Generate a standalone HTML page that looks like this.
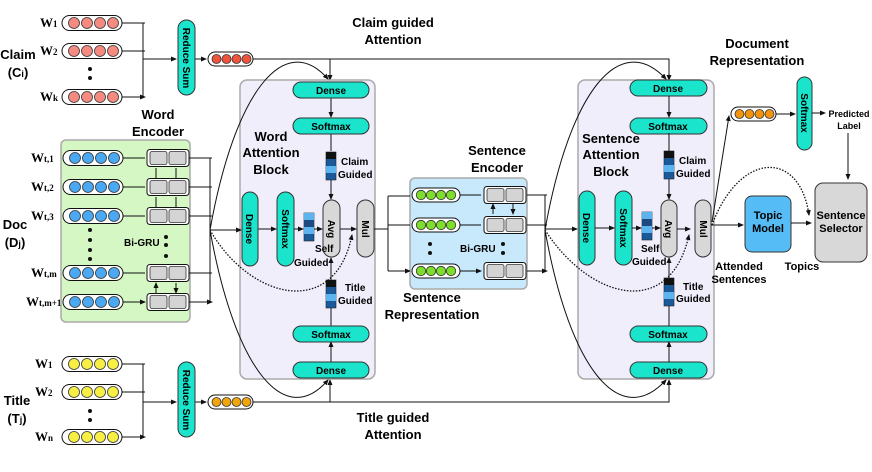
<!DOCTYPE html>
<html><head><meta charset="utf-8"><style>
body{margin:0;background:#fff}
svg{display:block;font-family:"Liberation Sans",sans-serif;font-weight:bold}
.w{font-family:"Liberation Serif",serif;font-weight:bold;font-size:13px}
.l{font-size:13px}
.s{font-size:10px}
.t{font-size:10px}
</style></head><body>
<svg width="872" height="472" viewBox="0 0 872 472" xmlns="http://www.w3.org/2000/svg">
<defs>
<marker id="a" markerWidth="6" markerHeight="6" refX="5" refY="3" orient="auto" markerUnits="userSpaceOnUse"><path d="M0,0.5 L6,3 L0,5.5z" fill="#111"/></marker>
<g id="pill"><rect x="0" y="-7.5" width="60" height="15" rx="7.5" fill="#fff" stroke="#111"/></g>
<g id="rc"><use href="#pill"/><g fill="#f48a80" stroke="#333" stroke-width=".8"><circle cx="12" cy="0" r="5.5"/><circle cx="25" cy="0" r="5.5"/><circle cx="38" cy="0" r="5.5"/><circle cx="51" cy="0" r="5.5"/></g></g>
<g id="bc"><use href="#pill"/><g fill="#4aa9f2" stroke="#333" stroke-width=".8"><circle cx="12" cy="0" r="5.5"/><circle cx="25" cy="0" r="5.5"/><circle cx="38" cy="0" r="5.5"/><circle cx="51" cy="0" r="5.5"/></g></g>
<g id="yc"><use href="#pill"/><g fill="#f8ef45" stroke="#333" stroke-width=".8"><circle cx="12" cy="0" r="5.5"/><circle cx="25" cy="0" r="5.5"/><circle cx="38" cy="0" r="5.5"/><circle cx="51" cy="0" r="5.5"/></g></g>
<g id="gc"><rect x="0" y="-7" width="48" height="14" rx="7" fill="#fff" stroke="#111"/><g fill="#7ddf2b" stroke="#333" stroke-width=".8"><circle cx="9" cy="0" r="4.7"/><circle cx="19" cy="0" r="4.7"/><circle cx="29" cy="0" r="4.7"/><circle cx="39" cy="0" r="4.7"/></g></g>
<g id="sp"><rect x="0" y="-7" width="45" height="14" rx="7" fill="#fff" stroke="#111"/><g stroke="#333" stroke-width=".8"><circle cx="8.5" cy="0" r="4.5"/><circle cx="18.5" cy="0" r="4.5"/><circle cx="28.5" cy="0" r="4.5"/><circle cx="38.5" cy="0" r="4.5"/></g></g>
<g id="gru"><rect x="0" y="-8.5" width="42" height="17" rx="3" fill="#fff" stroke="#111"/><rect x="3" y="-6.5" width="17" height="13" rx="2" fill="#d4d4d4" stroke="#333" stroke-width=".8"/><rect x="22" y="-6.5" width="17" height="13" rx="2" fill="#d4d4d4" stroke="#333" stroke-width=".8"/></g>
<g id="vec"><rect x="0" y="0" width="10" height="28" fill="#1a5a9a" stroke="#222" stroke-width=".6"/><rect x="0" y="0" width="10" height="7" fill="#111"/><rect x="0" y="14" width="10" height="7" fill="#5cb4ee"/></g>
<g id="vec2"><rect x="0" y="0" width="10" height="28" fill="#1a5a9a" stroke="#222" stroke-width=".6"/><rect x="0" y="7" width="10" height="7" fill="#1c4a80"/><rect x="0" y="14" width="10" height="7" fill="#5cb4ee"/><rect x="0" y="0" width="10" height="7" fill="#5cb4ee"/></g>
</defs>

<g stroke="#111" fill="none" stroke-width="1">
<path d="M122,23H145M122,51H145M122,97H145" marker-end="url(#a)"/>
<path d="M143,23V97"/><path d="M143,59H176" marker-end="url(#a)"/>
<path d="M195,59H206" marker-end="url(#a)"/>
<path d="M253,59H669V79M330,59V79" />
<path d="M330,70V80" marker-end="url(#a)"/><path d="M669,70V80" marker-end="url(#a)"/>
<path d="M122,364H145M122,392H145M122,437H145" marker-end="url(#a)"/>
<path d="M143,364V437"/><path d="M143,402H176" marker-end="url(#a)"/>
<path d="M195,402H206" marker-end="url(#a)"/>
<path d="M253,402H669V380M330,402V380"/>
<path d="M330,390V380" marker-end="url(#a)"/><path d="M669,390V380" marker-end="url(#a)"/>
</g>

<rect x="61" y="140" width="129" height="182" rx="5" fill="#d4f7c4" stroke="#aaa" stroke-width="1.5"/>
<rect x="240" y="80" width="135" height="299" rx="7" fill="#f1eefb" stroke="#aaa" stroke-width="1.5"/>
<rect x="410" y="178" width="117" height="111" rx="5" fill="#c8e8fb" stroke="#aaa" stroke-width="1.5"/>
<rect x="578" y="80" width="136" height="299" rx="7" fill="#f1eefb" stroke="#aaa" stroke-width="1.5"/>

<use href="#rc" x="62" y="23"/><use href="#rc" x="62" y="51"/><use href="#rc" x="62" y="97"/>
<circle cx="90" cy="69" r="2" fill="#111"/><circle cx="90" cy="78" r="2" fill="#111"/>
<use href="#yc" x="62" y="364"/><use href="#yc" x="62" y="392"/><use href="#yc" x="62" y="437"/>
<circle cx="90" cy="411" r="2" fill="#111"/><circle cx="90" cy="420" r="2" fill="#111"/>
<use href="#sp" x="208" y="59" fill="#f0543c"/>
<use href="#sp" x="208" y="402" fill="#f0a50c"/>
<use href="#sp" x="731" y="114" fill="#f3940c"/>

<rect x="178" y="20" width="17" height="75" rx="8.5" fill="#1ae5cc" stroke="#333"/>
<rect x="178" y="362" width="17" height="75" rx="8.5" fill="#1ae5cc" stroke="#333"/>
<text class="t" transform="translate(183,58) rotate(90)" text-anchor="middle">Reduce Sum</text>
<text class="t" transform="translate(183,400) rotate(90)" text-anchor="middle">Reduce Sum</text>

<g stroke="#111" fill="none">
<path d="M122,158H145M122,187H145M122,216H145M122,273H145M122,302H145" marker-end="url(#a)"/>
<path d="M189,158H212M189,187H212M189,216H212M189,273H212M189,302H212" marker-end="url(#a)"/>
<path d="M210,158V302"/>
<path d="M156,178V168M156,207V197M156,293V283" marker-end="url(#a)"/>
<path d="M176,168V178M176,197V207M176,283V293" marker-end="url(#a)"/>
</g>
<use href="#bc" x="63" y="158"/><use href="#bc" x="63" y="187"/><use href="#bc" x="63" y="216"/><use href="#bc" x="63" y="273"/><use href="#bc" x="63" y="302"/>
<use href="#gru" x="147" y="158"/><use href="#gru" x="147" y="187"/><use href="#gru" x="147" y="216"/><use href="#gru" x="147" y="273"/><use href="#gru" x="147" y="302"/>
<g fill="#111"><circle cx="90" cy="230" r="2"/><circle cx="90" cy="240" r="2"/><circle cx="90" cy="250" r="2"/><circle cx="90" cy="259" r="2"/>
<circle cx="166" cy="237" r="2"/><circle cx="166" cy="245" r="2"/><circle cx="166" cy="256" r="2"/></g>
<text class="s" x="124" y="246">Bi-GRU</text>

<g stroke="#111" fill="none">
<path d="M210,230H241" marker-end="url(#a)"/>
<path d="M258,229H276" marker-end="url(#a)"/>
<path d="M294,229H303" marker-end="url(#a)"/>
<path d="M314,229H322" marker-end="url(#a)"/>
<path d="M340,229H356" marker-end="url(#a)"/>
<path d="M331,97V117" marker-end="url(#a)"/>
<path d="M331,133V151"/><path d="M331,180V199" marker-end="url(#a)"/>
<path d="M331,362V342" marker-end="url(#a)"/>
<path d="M331,326V308"/><path d="M331,280V258" marker-end="url(#a)"/>
<path d="M210,230C235,90 285,30 328,79" marker-end="url(#a)"/>
<path d="M210,230C235,370 285,430 328,380" marker-end="url(#a)"/>
<path d="M210,230C250,300 335,320 352,235" stroke-dasharray="1.5,1.5" stroke-width="1.3" marker-end="url(#a)"/>
<path d="M374,229H388V196M388,229V271"/>
<path d="M388,196H410M388,225H410M388,271H410" marker-end="url(#a)"/>
</g>
<g fill="#1ae5cc" stroke="#333">
<rect x="293" y="82" width="76" height="16" rx="8"/><rect x="293" y="118" width="76" height="16" rx="8"/>
<rect x="293" y="326" width="76" height="16" rx="8"/><rect x="293" y="362" width="76" height="16" rx="8"/>
<rect x="242" y="192" width="16" height="74" rx="8"/><rect x="277" y="192" width="17" height="74" rx="8.5"/>
<rect x="630" y="80" width="77" height="16" rx="8"/><rect x="630" y="118" width="77" height="16" rx="8"/>
<rect x="630" y="326" width="77" height="16" rx="8"/><rect x="630" y="362" width="77" height="16" rx="8"/>
<rect x="579" y="191" width="16" height="74" rx="8"/><rect x="615" y="191" width="17" height="74" rx="8.5"/>
<rect x="797" y="77" width="15" height="73" rx="7.5"/>
</g>
<g fill="#d8d8d8" stroke="#333">
<rect x="323" y="200" width="17" height="57" rx="8.5"/><rect x="357" y="200" width="17" height="57" rx="8.5"/>
<rect x="661" y="200" width="16" height="57" rx="8"/><rect x="695" y="200" width="16" height="57" rx="8"/>
<rect x="815" y="183" width="52" height="79" rx="8"/>
</g>
<rect x="745" y="196" width="46" height="56" rx="7" fill="#55bcf6" stroke="#333"/>
<use href="#vec" x="326" y="152"/><use href="#vec2" x="304" y="213"/><use href="#vec" x="326" y="280"/>
<use href="#vec" x="664" y="151"/><use href="#vec2" x="642" y="212"/><use href="#vec" x="664" y="278"/>

<g font-size="10" text-anchor="middle">
<text x="331" y="94">Dense</text><text x="331" y="130">Softmax</text>
<text x="331" y="338">Softmax</text><text x="331" y="374">Dense</text>
<text x="668" y="92">Dense</text><text x="668" y="130">Softmax</text>
<text x="668" y="338">Softmax</text><text x="668" y="374">Dense</text>
</g>
<g font-size="10" text-anchor="middle">
<text transform="translate(246,229) rotate(90)">Dense</text>
<text transform="translate(282,229) rotate(90)">Softmax</text>
<text transform="translate(328,229) rotate(90)">Avg</text>
<text transform="translate(362,229) rotate(90)">Mul</text>
<text transform="translate(583,228) rotate(90)">Dense</text>
<text transform="translate(620,228) rotate(90)">Softmax</text>
<text transform="translate(665,229) rotate(90)">Avg</text>
<text transform="translate(700,229) rotate(90)">Mul</text>
<text transform="translate(801,113) rotate(90)">Softmax</text>
</g>
<g class="t">
<text x="341" y="165">Claim</text><text x="338" y="178">Guided</text>
<text x="315" y="252">Self</text><text x="294" y="266">Guided</text>
<text x="345" y="291">Title</text><text x="338" y="304">Guided</text>
<text x="679" y="164">Claim</text><text x="676" y="177">Guided</text>
<text x="641" y="252">Self</text><text x="632" y="265">Guided</text>
<text x="683" y="290">Title</text><text x="676" y="302">Guided</text>
</g>

<g stroke="#111" fill="none">
<path d="M460,195H481M460,225H481M460,271H481" marker-end="url(#a)"/>
<path d="M527,195H547M527,225H547M527,271H547" marker-end="url(#a)"/>
<path d="M545,195V271"/>
<path d="M493,214V204" marker-end="url(#a)"/><path d="M513,204V214" marker-end="url(#a)"/>
<path d="M545,229H577" marker-end="url(#a)"/>
<path d="M595,228H614" marker-end="url(#a)"/>
<path d="M632,228H641" marker-end="url(#a)"/>
<path d="M652,228H660" marker-end="url(#a)"/>
<path d="M677,229H690" marker-end="url(#a)"/>
<path d="M669,96V117" marker-end="url(#a)"/>
<path d="M669,133V151"/><path d="M669,179V199" marker-end="url(#a)"/>
<path d="M669,362V342" marker-end="url(#a)"/>
<path d="M669,326V306"/><path d="M669,278V258" marker-end="url(#a)"/>
<path d="M545,230C570,90 620,30 666,79" marker-end="url(#a)"/>
<path d="M545,230C570,370 620,430 666,380" marker-end="url(#a)"/>
<path d="M545,230C590,300 670,320 689,235" stroke-dasharray="1.5,1.5" stroke-width="1.3" marker-end="url(#a)"/>
<path d="M711,225H743" marker-end="url(#a)"/>
<path d="M791,223H811" marker-end="url(#a)"/>
<path d="M712,222L729,116" marker-end="url(#a)"/>
<path d="M776,114H795" marker-end="url(#a)"/>
<path d="M812,113H825" marker-end="url(#a)"/>
<path d="M848,133V179" marker-end="url(#a)"/>
<path d="M712,225C740,150 800,150 809,215" stroke-dasharray="1.5,1.5" stroke-width="1.3" marker-end="url(#a)"/>
</g>
<use href="#gc" x="412" y="195"/><use href="#gc" x="412" y="225"/><use href="#gc" x="412" y="271"/>
<use href="#gru" x="484" y="195"/><use href="#gru" x="484" y="225"/><use href="#gru" x="484" y="271"/>
<g fill="#111"><circle cx="430" cy="244" r="2"/><circle cx="430" cy="253" r="2"/><circle cx="503" cy="244" r="2"/><circle cx="503" cy="253" r="2"/></g>
<text class="s" x="460" y="252">Bi-GRU</text>

<g class="w">
<text x="40" y="27">W<tspan font-size="9">1</tspan></text>
<text x="40" y="55">W<tspan font-size="9">2</tspan></text>
<text x="40" y="101">W<tspan font-size="9">k</tspan></text>
<text x="31" y="162">W<tspan font-size="9">t,1</tspan></text>
<text x="31" y="191">W<tspan font-size="9">t,2</tspan></text>
<text x="31" y="220">W<tspan font-size="9">t,3</tspan></text>
<text x="31" y="277">W<tspan font-size="9">t,m</tspan></text>
<text x="26" y="306">W<tspan font-size="9">t,m+1</tspan></text>
<text x="35" y="368">W<tspan font-size="9">1</tspan></text>
<text x="35" y="396">W<tspan font-size="9">2</tspan></text>
<text x="35" y="441">W<tspan font-size="9">n</tspan></text>
</g>

<g class="l" text-anchor="middle">
<text x="18" y="59">Claim</text><text x="18" y="77">(C<tspan font-size="9">i</tspan>)</text>
<text x="15" y="229">Doc</text><text x="15" y="247">(D<tspan font-size="9">j</tspan>)</text>
<text x="17" y="405">Title</text><text x="17" y="423">(T<tspan font-size="9">j</tspan>)</text>
<text x="158" y="119">Word</text><text x="158" y="136">Encoder</text>
<text x="271" y="141">Word</text><text x="271" y="157">Attention</text><text x="271" y="174">Block</text>
<text x="497" y="155">Sentence</text><text x="497" y="172">Encoder</text>
<text x="432" y="302">Sentence</text><text x="432" y="319">Representation</text>
<text x="611" y="143">Sentence</text><text x="611" y="159">Attention</text><text x="611" y="176">Block</text>
<text x="393" y="27">Claim guided</text><text x="393" y="44">Attention</text>
<text x="393" y="422">Title guided</text><text x="393" y="439">Attention</text>
<text x="757" y="48">Document</text><text x="757" y="65">Representation</text>
</g>
<g font-size="11" text-anchor="middle">
<text x="768" y="219">Topic</text><text x="768" y="232">Model</text>
<text x="841" y="219">Sentence</text><text x="841" y="232">Selector</text>
<text x="739" y="270">Attended</text><text x="739" y="283">Sentences</text>
<text x="802" y="270">Topics</text>
</g>
<g font-size="9" text-anchor="middle"><text x="849" y="117">Predicted</text><text x="849" y="129">Label</text></g>
</svg>
</body></html>
